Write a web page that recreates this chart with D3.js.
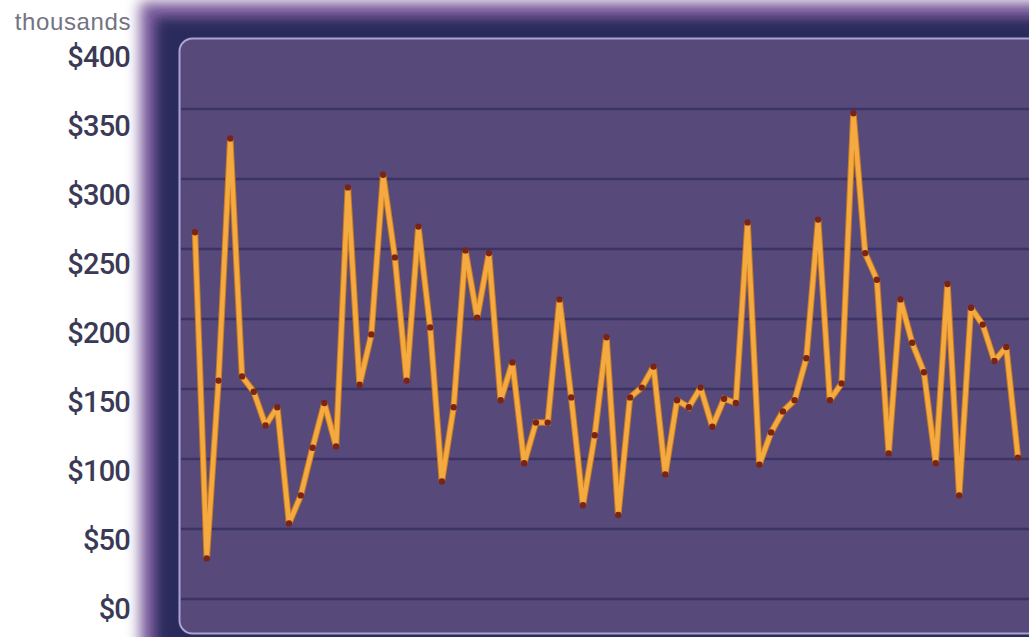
<!DOCTYPE html>
<html>
<head>
<meta charset="utf-8">
<script src="https://cdn.jsdelivr.net/npm/d3@7"></script>
<style>
  html, body { margin: 0; padding: 0; background: #ffffff; }
  svg { display: block; }
</style>
</head>
<body>
<svg id="chart" width="1029" height="637"></svg>
<script>
// Monthly amounts, in thousands of dollars
const values = [
  262, 29, 156, 329, 159, 148, 124, 137, 54, 74,
  108, 140, 109, 294, 153, 189, 303, 244, 156, 266,
  194, 84, 137, 249, 201, 247, 142, 169, 97, 126,
  126, 214, 144, 67, 117, 187, 60, 144, 151, 166,
  89, 142, 137, 151, 123, 143, 140, 269, 96, 119,
  134, 142, 172, 271, 142, 154, 347, 247, 228, 104,
  214, 183, 162, 97, 225, 74, 208, 196, 170, 180, 101
];
const tickValues = [0, 50, 100, 150, 200, 250, 300, 350, 400];
const gridValues = [0, 50, 100, 150, 200, 250, 300, 350];
const unitLabel = "thousands";

const svg = d3.select("#chart");
const W = 1029, H = 637;

const x = d3.scaleLinear().domain([0, values.length - 1]).range([195, 1018]);
const y = d3.scaleLinear().domain([0, 400]).range([599, 39]);
// tick labels sit on their own slightly tighter ladder
const yLabel = d3.scaleLinear().domain([0, 400]).range([609, 57]);

const defs = svg.append("defs");
defs.append("filter").attr("id", "soft1").attr("x", "-20%").attr("y", "-20%").attr("width", "140%").attr("height", "140%")
  .append("feGaussianBlur").attr("stdDeviation", 7);
defs.append("filter").attr("id", "soft2").attr("x", "-20%").attr("y", "-20%").attr("width", "140%").attr("height", "140%")
  .append("feGaussianBlur").attr("stdDeviation", 6);

// outer frame: purple glow fading into dark navy
svg.append("rect").attr("x", 140).attr("y", 2).attr("width", 1000).attr("height", 700)
  .attr("fill", "#7a5c9c").attr("filter", "url(#soft1)");
svg.append("rect").attr("x", 156).attr("y", 18).attr("width", 1000).attr("height", 700)
  .attr("fill", "#2c2a5d").attr("filter", "url(#soft2)");

// inner panel
svg.append("rect")
  .attr("x", 179.5).attr("y", 38.5).attr("width", 900).attr("height", 595)
  .attr("rx", 13).attr("ry", 13)
  .attr("fill", "#574a7b").attr("stroke", "#aca3d3").attr("stroke-width", 2);

// horizontal gridlines
svg.append("g").selectAll("line").data(gridValues).join("line")
  .attr("x1", 181).attr("x2", W)
  .attr("y1", d => y(d)).attr("y2", d => y(d))
  .attr("stroke", "#3a3364").attr("stroke-width", 2.5);

// series line
const line = d3.line().x((d, i) => x(i)).y(d => y(d));
svg.append("path").datum(values)
  .attr("d", line)
  .attr("fill", "none")
  .attr("stroke", "#c77a22")
  .attr("stroke-width", 6.5)
  .attr("stroke-linejoin", "miter")
  .attr("stroke-miterlimit", 1.6);
svg.append("path").datum(values)
  .attr("d", line)
  .attr("fill", "none")
  .attr("stroke", "#f4aa40")
  .attr("stroke-width", 4.5)
  .attr("stroke-linejoin", "miter")
  .attr("stroke-miterlimit", 1.6);

// point markers
svg.append("g").selectAll("circle").data(values).join("circle")
  .attr("cx", (d, i) => x(i)).attr("cy", d => y(d))
  .attr("r", 3.2)
  .attr("fill", "#7a2417");

// value axis labels
const axis = d3.axisLeft(yLabel)
  .tickValues(tickValues)
  .tickFormat(d => "$" + d)
  .tickSize(0)
  .tickPadding(0);
const gAxis = svg.append("g").attr("transform", "translate(130,0)").call(axis);
gAxis.select(".domain").remove();
gAxis.selectAll("text")
  .attr("fill", "#3b3a56")
  .attr("font-family", "Roboto, Arial, sans-serif")
  .attr("font-weight", 500)
  .attr("font-size", 29)
  .attr("letter-spacing", "-0.8px");

svg.append("text")
  .attr("x", 131).attr("y", 30)
  .attr("text-anchor", "end")
  .attr("fill", "#737382")
  .attr("font-family", "Liberation Sans, Arial, sans-serif")
  .attr("font-size", 24)
  .attr("letter-spacing", "0.6px")
  .text(unitLabel);
</script>
</body>
</html>
